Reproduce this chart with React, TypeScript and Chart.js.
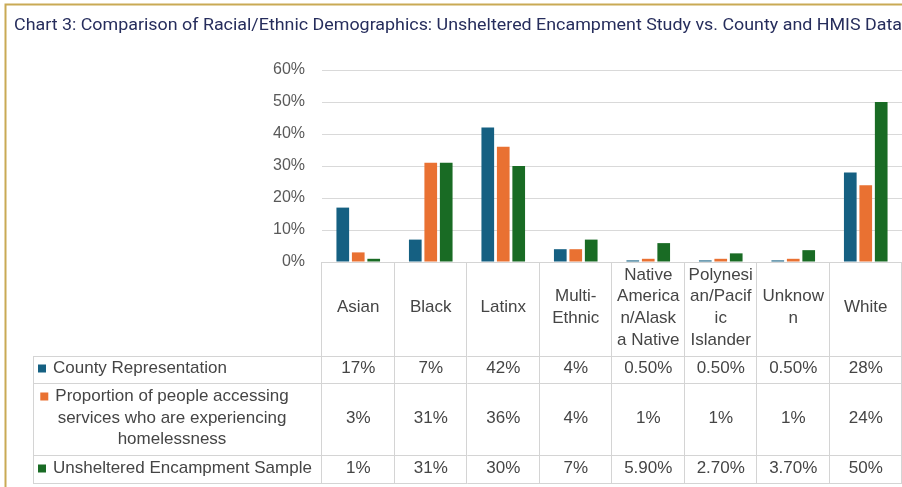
import React, { useEffect, useRef } from 'react';
import { Chart, registerables } from 'chart.js';

Chart.register(...registerables);

const chartTitle =
  'Chart 3: Comparison of Racial/Ethnic Demographics: Unsheltered Encampment Study vs. County and HMIS Data';

const categories = [
  'Asian',
  'Black',
  'Latinx',
  'Multi-Ethnic',
  'Native American/Alaska Native',
  'Polynesian/Pacific Islander',
  'Unknown',
  'White',
];

// header cell text as wrapped in the reference table
const headerLines = [
  ['Asian'],
  ['Black'],
  ['Latinx'],
  ['Multi-', 'Ethnic'],
  ['Native', 'America', 'n/Alask', 'a Native'],
  ['Polynesi', 'an/Pacif', 'ic', 'Islander'],
  ['Unknow', 'n'],
  ['White'],
];

const seriesNames = [
  'County Representation',
  'Proportion of people accessing services who are experiencing homelessness',
  'Unsheltered Encampment Sample',
];

const seriesLegendLines = [
  ['County Representation'],
  ['Proportion of people accessing', 'services who are experiencing', 'homelessness'],
  ['Unsheltered Encampment Sample'],
];

const countyRepresentation = [17, 7, 42, 4, 0.5, 0.5, 0.5, 28];
const servicesProportion = [3, 31, 36, 4, 1, 1, 1, 24];
const encampmentSample = [1, 31, 30, 7, 5.9, 2.7, 3.7, 50];

const seriesColors = ['#156082', '#E97132', '#196B24'];

const yMin = 0;
const yMax = 60;
const yStep = 10;

const fmt = (v: number) => (Number.isInteger(v) ? `${v}%` : `${v.toFixed(2)}%`);

const FONT = '"Liberation Sans", Arial, sans-serif';
const TITLE_FONT = 'Roboto, "Liberation Sans", sans-serif';
const TEXT = '#454545';
const LINE = '#d4d4d4';

// table layout (pixels)
const tableLeft = 33;
const headerBottom = 356;
const rowBottoms = [383, 455, 483];
const rowCenters = [368.5, 418, 468.5];

const tablePlugin = {
  id: 'tablePlugin',
  beforeDraw(chart: any) {
    const { ctx, width, height } = chart;
    ctx.save();
    ctx.fillStyle = '#ffffff';
    ctx.fillRect(0, 0, width, height);
    // gold frame
    ctx.strokeStyle = '#c9aa55';
    ctx.lineWidth = 2;
    ctx.beginPath();
    ctx.moveTo(5.5, height);
    ctx.lineTo(5.5, 4.5);
    ctx.lineTo(width, 4.5);
    ctx.stroke();
    // title
    ctx.fillStyle = '#262d5c';
    ctx.font = `400 17px ${TITLE_FONT}`;
    ctx.textBaseline = 'alphabetic';
    ctx.textAlign = 'left';
    const w = ctx.measureText(chartTitle).width;
    const target = 888;
    ctx.translate(14, 30);
    ctx.scale(target / w, 1);
    ctx.fillText(chartTitle, 0, 0);
    ctx.restore();
  },
  afterDraw(chart: any) {
    const { ctx, chartArea } = chart;
    const x = chart.scales.x;
    const n = categories.length;
    const colW = (chartArea.right - chartArea.left) / n;
    const top = chartArea.bottom;
    const bottom = rowBottoms[rowBottoms.length - 1];
    ctx.save();
    ctx.strokeStyle = LINE;
    ctx.lineWidth = 1;
    ctx.beginPath();
    // horizontal lines
    ctx.moveTo(chartArea.left, Math.round(top) + 0.5);
    ctx.lineTo(chartArea.right, Math.round(top) + 0.5);
    [headerBottom, ...rowBottoms].forEach((y) => {
      ctx.moveTo(tableLeft, y + 0.5);
      ctx.lineTo(chartArea.right, y + 0.5);
    });
    // vertical lines
    for (let i = 0; i <= n; i++) {
      const bx = Math.round(chartArea.left + i * colW) - 0.5;
      ctx.moveTo(bx, top);
      ctx.lineTo(bx, bottom);
    }
    ctx.moveTo(tableLeft + 0.5, headerBottom);
    ctx.lineTo(tableLeft + 0.5, bottom);
    ctx.stroke();

    ctx.fillStyle = TEXT;
    ctx.font = `17px ${FONT}`;
    ctx.textAlign = 'center';
    ctx.textBaseline = 'middle';
    const lh = 21.7;
    const headerCenter = (top + headerBottom) / 2 - 1.5;
    categories.forEach((_, i) => {
      const cx = x.getPixelForValue(i);
      const lines = headerLines[i];
      lines.forEach((l, k) => {
        ctx.fillText(l, cx, headerCenter + (k - (lines.length - 1) / 2) * lh);
      });
    });

    const seriesData = [countyRepresentation, servicesProportion, encampmentSample];
    seriesData.forEach((data, r) => {
      data.forEach((v, i) => {
        ctx.fillText(fmt(v), x.getPixelForValue(i), rowCenters[r]);
      });
      const lines = seriesLegendLines[r];
      const sq = 8;
      if (lines.length === 1) {
        ctx.fillStyle = seriesColors[r];
        ctx.fillRect(38, rowCenters[r] - sq / 2, sq, sq);
        ctx.fillStyle = TEXT;
        ctx.textAlign = 'left';
        ctx.fillText(lines[0], 53, rowCenters[r]);
        ctx.textAlign = 'center';
      } else {
        const cxl = 172;
        lines.forEach((l, k) => {
          const ly = rowCenters[r] + (k - (lines.length - 1) / 2) * 21.5;
          ctx.fillText(l, cxl, ly);
          if (k === 0) {
            const tw = ctx.measureText(l).width;
            ctx.fillStyle = seriesColors[r];
            ctx.fillRect(cxl - tw / 2 - 15, ly - sq / 2, sq, sq);
            ctx.fillStyle = TEXT;
          }
        });
      }
    });
    ctx.restore();
  },
};

export default function App() {
  const ref = useRef<HTMLCanvasElement | null>(null);

  useEffect(() => {
    document.body.style.margin = '0';
    if (!ref.current) return;
    const chart = new Chart(ref.current, {
      type: 'bar',
      data: {
        labels: categories,
        datasets: [
          { label: seriesNames[0], data: countyRepresentation, backgroundColor: seriesColors[0] },
          { label: seriesNames[1], data: servicesProportion, backgroundColor: seriesColors[1] },
          { label: seriesNames[2], data: encampmentSample, backgroundColor: seriesColors[2] },
        ],
      },
      options: {
        responsive: false,
        animation: false,
        devicePixelRatio: 1,
        layout: { padding: { top: 70, bottom: 225, left: 0, right: 0 } },
        datasets: { bar: { categoryPercentage: 0.64, barPercentage: 0.82 } },
        plugins: {
          legend: { display: false },
          title: { display: false },
          tooltip: { enabled: false },
        },
        scales: {
          x: { display: false },
          y: {
            min: yMin,
            max: yMax,
            border: { display: false },
            grid: { color: '#d9d9d9', drawTicks: false, lineWidth: 1 },
            ticks: {
              stepSize: yStep,
              padding: 17,
              color: '#595959',
              font: { family: FONT, size: 16 },
              callback: (v: any) => `${v}%`,
            },
            afterFit: (scale: any) => {
              scale.width = 322;
            },
          },
        },
      },
      plugins: [tablePlugin],
    });
    return () => chart.destroy();
  }, []);

  return (
    <div style={{ position: 'absolute', left: 0, top: 0, width: 902, height: 487, overflow: 'hidden', background: '#fff' }}>
      <canvas ref={ref} width={902} height={487} style={{ display: 'block' }} />
    </div>
  );
}
